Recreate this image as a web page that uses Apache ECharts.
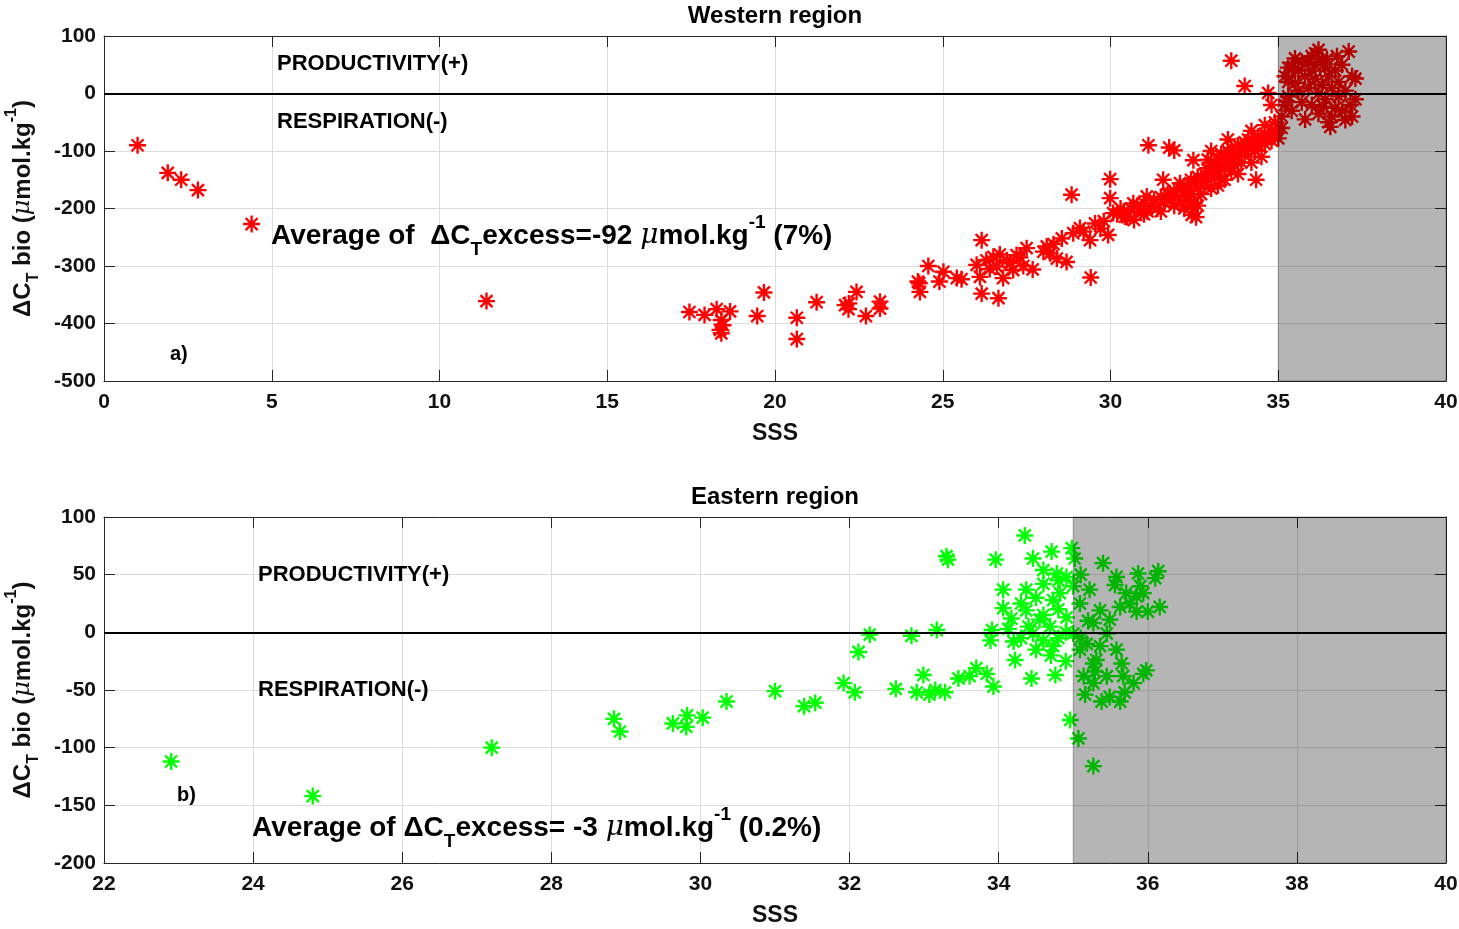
<!DOCTYPE html>
<html>
<head>
<meta charset="utf-8">
<script src="https://cdn.jsdelivr.net/npm/echarts@6/dist/echarts.min.js"></script>
<style>
html,body{margin:0;padding:0;background:#fff;}
#chart{width:1459px;height:929px;}
</style>
</head>
<body>
<div id="chart"></div>
<script>
// ---------- DATA ----------
const westTitle = 'Western region';
const eastTitle = 'Eastern region';
const westXTicks = { min: 0, max: 40, interval: 5 };
const westYTicks = { min: -500, max: 100, interval: 100 };
const eastXTicks = { min: 22, max: 40, interval: 2 };
const eastYTicks = { min: -200, max: 100, interval: 50 };
const shadeFrom = 35;
const shadeTo = 40;

const westSSS = [
  1.0, 1.9, 2.3, 2.8, 4.4, 11.4,
  17.45, 17.9, 18.26, 18.4, 18.66, 18.36, 18.45, 18.4, 19.47, 19.67, 20.65, 20.65, 21.24, 22.09, 22.19, 22.43, 22.71, 23.13, 23.13, 22.2,
  24.26, 24.3, 24.32, 24.57, 25.02, 24.9, 25.42, 25.56, 26.01, 26.16, 26.11, 26.16, 26.66, 26.51, 26.61, 26.8, 26.91, 27.1, 27.2, 27.5, 27.68,
  28.1, 28.2, 28.4, 28.69, 28.55, 28.84, 28.89, 29.09, 29.39, 29.41, 29.54, 29.93, 29.99, 29.99, 30.08, 30.43, 30.68, 31.08, 31.13, 31.75,
  31.57, 31.77, 32.42, 32.07, 32.47, 32.27,
  26.3, 26.4, 26.7, 27.0, 27.3, 27.4, 28.0, 28.3, 29.2, 29.7, 29.8, 30.3,
  30.2, 30.4, 30.5, 30.6, 30.8, 30.9, 31.0, 31.0,
  31.2, 31.3, 31.4, 31.5, 31.6, 31.7, 31.8, 31.9, 31.9, 32.0,
  32.1, 32.1, 32.2, 32.3, 32.3, 32.4, 32.4, 32.5, 32.5, 32.6, 32.6, 32.7, 32.7, 32.8, 32.8, 32.9, 32.9, 33.0, 33.0, 33.0,
  33.1, 33.1, 33.2, 33.2, 33.3, 33.3, 33.3, 33.4, 33.4, 33.5, 33.5, 33.6, 33.6, 33.6, 33.7, 33.7, 33.8, 33.8, 33.9, 33.9, 34.0, 34.0,
  34.1, 34.1, 34.2, 34.3, 34.3, 34.4, 34.4, 34.5, 34.6, 34.6, 34.7, 34.8, 34.8, 34.9, 35.0, 35.0,
  33.0, 33.4, 33.8, 34.2, 34.5, 32.6, 32.2, 31.5, 34.6, 34.9, 34.2, 33.5, 32.9, 33.2, 31.1, 30.7,
  33.6, 34.0, 34.7, 34.8, 34.34, 31.9, 32.55, 32.4,
  35.1, 35.2, 35.25, 35.3, 35.3, 35.4, 35.5, 35.5, 35.6, 35.6, 35.7, 35.8, 35.8, 35.9, 35.9, 36.0, 36.0, 36.0, 36.1, 36.1,
  36.2, 36.2, 36.2, 36.3, 36.3, 36.35, 36.4, 36.4, 36.5, 36.5, 36.55, 36.6, 36.7, 36.7, 36.8, 36.8, 36.9, 37.0, 37.0, 37.1,
  37.15, 37.2, 37.3, 37.3, 37.2, 35.2, 35.4, 35.7, 36.6, 36.9, 35.1, 35.3, 36.1, 36.45, 36.75
];
const westDCT = [
  -90, -138, -150, -168, -227, -361,
  -380, -385, -375, -394, -379, -411, -403, -417, -387, -346, -390, -427, -363, -368, -375, -345, -387, -362, -374, -365,
  -327, -330, -345, -300, -310, -327, -321, -323, -298, -255, -319, -348, -356, -284, -301, -321, -290, -307, -281, -269, -306,
  -266, -278, -287, -293, -252, -176, -243, -234, -255, -320, -226, -246, -149, -182, -208, -214, -191, -179, -90, -94,
  -150, -174, -211, -156, -116, -185,
  -290, -305, -280, -295, -285, -300, -275, -262, -240, -235, -222, -200,
  -210, -205, -215, -200, -195, -205, -190, -210,
  -195, -185, -200, -180, -190, -175, -185, -170, -195, -180,
  -165, -190, -170, -160, -180, -150, -175, -155, -190, -145, -165, -150, -175, -140, -160, -130, -150, -140, -120, -165,
  -125, -145, -115, -135, -105, -125, -150, -110, -130, -100, -120, -95, -115, -135, -105, -125, -90, -110, -100, -120, -85, -105,
  -95, -80, -90, -85, -100, -75, -90, -80, -70, -88, -75, -65, -82, -70, -60, -78,
  -100, -150, -140, -120, -110, -195, -200, -205, -55, -50, -65, -80, -115, -160, -205, -220,
  57, 13, 1, -20, -150, -99, -215, -197,
  -40, -20, -14, -5, 20, -30, 61, 18, 5, 40, -15, 30, -45, 55, 10, 40, -20, 65, 70, 25,
  76, 0, -35, 60, 15, -23, 45, -10, -50, 30, -58, 10, 40, -25, 20, -5, 50, -46, 5, 73,
  -20, 30, 26, -10, -40, 30, 45, 55, -40, -30, -60, 45, 50, 60, 65
];

const eastSSS = [
  22.9, 24.8, 27.2, 28.84, 28.92, 29.63, 29.82, 29.81, 30.03, 30.35, 31.0, 31.39, 31.54, 31.92, 32.07, 32.12, 32.27, 32.62, 32.83, 32.9,
  32.99, 33.07, 33.17, 33.15, 33.28, 33.46, 33.61, 33.7, 33.84, 33.93, 33.3, 33.32,
  34.35, 33.96, 34.46, 34.71, 34.98, 35.02, 34.6, 34.8, 35.4, 35.58, 35.87, 36.14, 36.1, 36.16, 35.85, 35.85, 36.0, 34.06, 34.37, 34.06,
  34.17, 34.37, 34.13, 33.89, 34.2, 34.22, 34.44, 34.76, 34.96, 35.07, 35.27, 35.16, 35.38, 35.63, 35.58, 35.65, 35.98, 35.94, 35.31, 35.29,
  35.81, 35.14, 35.18, 35.45, 34.73, 34.6, 34.69, 34.91, 34.82, 35.0, 35.22, 35.09, 35.36, 35.49, 35.27, 35.0, 34.55, 34.46, 34.73, 34.6,
  34.78, 34.91, 33.91, 35.09, 35.27, 35.36, 35.45, 35.27, 35.67, 35.69, 35.49, 35.56, 35.71, 35.76, 35.94, 35.63, 35.9, 34.3, 34.5, 34.4,
  34.8, 34.9, 34.5, 34.7, 34.3, 34.9, 34.6, 34.8, 35.1, 35.2, 35.1
];
const eastDCT = [
  -112, -142, -100, -75, -86, -79, -72, -82, -74, -60, -51, -64, -61, -44, -52, -17, -2, -49, -3, -52,
  -37, -54, 2, -50, -52, -40, -38, -31, -36, -47, 66, 63,
  84, 63, 64, 70, 73, 64, 54, 45, 60, 48, 51, 53, 47, 22, 31, 18, 18, 37, 37, 21,
  12, 19, 3, -7, -8, -24, -40, -37, -76, -92, -116, -54, -60, -60, -15, -27, -33, -36, -24, -34,
  -44, -38, -10, -1, -12, -7, 5, 13, 34, 40, 37, 25, 19, 11, 8, -1, 11, -1, 28, 42,
  51, 48, 2, -15, -27, -12, -38, -44, -38, -52, -56, 41, 34, 25, 34, 22, 40, 25, 30, 5,
  20, 0, -15, -20, -5, -25, 15, -5, 50, 10, -5
];

// ---------- BUILD ----------
const westData = westSSS.map((x, i) => [x, westDCT[i]]);
const eastData = eastSSS.map((x, i) => [x, eastDCT[i]]);

// asterisk marker (+ and x combined), filled thin bars
const asterisk = 'path://M0 43L100 43L100 57L0 57Z M43 0L57 0L57 100L43 100Z ' +
  'M19.6 9.7L90.3 80.4L80.4 90.3L9.7 19.6Z M9.7 80.4L80.4 9.7L90.3 19.6L19.6 90.3Z';

const FONT = '"Liberation Sans", Arial, Helvetica, sans-serif';
const AX = '#262626';
const GRIDC = '#dcdcdc';

function xAxisMain(grid, t) {
  return {
    gridIndex: grid, type: 'value', min: t.min, max: t.max, interval: t.interval, position: 'bottom',
    axisLine: { show: true, onZero: false, lineStyle: { color: AX, width: 1 } },
    axisTick: { show: true, inside: true, length: 11, lineStyle: { color: AX } },
    axisLabel: { show: true, color: '#111', fontFamily: FONT, fontWeight: 'bold', fontSize: 21, margin: 11 },
    splitLine: { show: true, lineStyle: { color: GRIDC, width: 1 } },
    name: 'SSS', nameLocation: 'middle', nameGap: 41,
    nameTextStyle: { color: '#111', fontFamily: FONT, fontWeight: 'bold', fontSize: 23 }
  };
}
function xAxisTop(grid, t) {
  return {
    gridIndex: grid, type: 'value', min: t.min, max: t.max, interval: t.interval, position: 'top',
    axisLine: { show: true, onZero: false, lineStyle: { color: AX, width: 1 } },
    axisTick: { show: true, inside: true, length: 11, lineStyle: { color: AX } },
    axisLabel: { show: false }, splitLine: { show: false }
  };
}
const yNameRich = {
  d: { fontFamily: FONT, fontWeight: 'bold', fontSize: 24, color: '#111', lineHeight: 38, verticalAlign: 'middle' },
  s: { fontFamily: FONT, fontWeight: 'bold', fontSize: 16, color: '#111', lineHeight: 16, verticalAlign: 'bottom' },
  p: { fontFamily: FONT, fontWeight: 'bold', fontSize: 16, color: '#111', lineHeight: 16, verticalAlign: 'top' },
  m: { fontFamily: 'DejaVu Serif, serif', fontStyle: 'italic', fontWeight: 'normal', fontSize: 24, color: '#111', lineHeight: 38, verticalAlign: 'middle' }
};
function yAxisMain(grid, t) {
  return {
    gridIndex: grid, type: 'value', min: t.min, max: t.max, interval: t.interval, position: 'left',
    axisLine: { show: true, onZero: false, lineStyle: { color: AX, width: 1 } },
    axisTick: { show: true, inside: true, length: 11, lineStyle: { color: AX } },
    axisLabel: { show: true, color: '#111', fontFamily: FONT, fontWeight: 'bold', fontSize: 21, margin: 8 },
    splitLine: { show: true, lineStyle: { color: GRIDC, width: 1 } },
    name: '{d|\u0394C}{s|T}{d| bio (}{m|\u03bc}{d|mol.kg}{p|-1}{d|)}',
    nameLocation: 'middle', nameGap: 62, nameRotate: 90,
    nameTextStyle: { rich: yNameRich }
  };
}
function yAxisRight(grid, t) {
  return {
    gridIndex: grid, type: 'value', min: t.min, max: t.max, interval: t.interval, position: 'right',
    axisLine: { show: true, onZero: false, lineStyle: { color: AX, width: 1 } },
    axisTick: { show: true, inside: true, length: 11, lineStyle: { color: AX } },
    axisLabel: { show: false }, splitLine: { show: false }
  };
}

function overlay(xi, yi) {
  return [{
    type: 'custom', xAxisIndex: xi, yAxisIndex: yi, z: 5, silent: true,
    data: [[shadeFrom, shadeTo]],
    encode: { x: [0, 1] },
    renderItem: function (params, api) {
      const cs = params.coordSys;
      const x1 = api.coord([api.value(0), 0])[0];
      const x2 = api.coord([api.value(1), 0])[0];
      return {
        type: 'rect',
        shape: { x: x1, y: cs.y, width: x2 - x1, height: cs.height },
        style: { fill: 'rgba(0,0,0,0.29)', stroke: 'rgba(0,0,0,0.3)', lineWidth: 1 }
      };
    }
  }, {
    type: 'scatter', xAxisIndex: xi, yAxisIndex: yi, data: [], z: 6, silent: true,
    markLine: {
      silent: true, symbol: ['none', 'none'], label: { show: false },
      lineStyle: { color: '#000', width: 2, type: 'solid' },
      data: [{ yAxis: 0 }]
    }
  }];
}

const bigRich = {
  d: { fontFamily: FONT, fontWeight: 'bold', fontSize: 28, fill: '#000', lineHeight: 46, verticalAlign: 'middle' },
  s: { fontFamily: FONT, fontWeight: 'bold', fontSize: 19, fill: '#000', lineHeight: 19, verticalAlign: 'bottom' },
  p: { fontFamily: FONT, fontWeight: 'bold', fontSize: 19, fill: '#000', lineHeight: 19, verticalAlign: 'top' },
  m: { fontFamily: 'DejaVu Serif, serif', fontStyle: 'italic', fontSize: 28, fill: '#000', lineHeight: 46, verticalAlign: 'middle' }
};
function txt(x, y, s, size, align) {
  return { type: 'text', x: x, y: y, silent: true, z: 20,
    style: { text: s, fill: '#000', font: 'bold ' + size + 'px ' + FONT, textAlign: align || 'left', textVerticalAlign: 'middle' } };
}
function richTxt(x, y, s) {
  return { type: 'text', x: x, y: y, silent: true, z: 20,
    style: { text: s, rich: bigRich, textAlign: 'left', textVerticalAlign: 'middle' } };
}

const option = {
  animation: false,
  backgroundColor: '#fff',
  grid: [
    { left: 104, right: 13, top: 36, height: 345, containLabel: false, outerBoundsMode: 'none' },
    { left: 104, right: 13, top: 517, height: 346, containLabel: false, outerBoundsMode: 'none' }
  ],
  xAxis: [xAxisMain(0, westXTicks), xAxisTop(0, westXTicks), xAxisMain(1, eastXTicks), xAxisTop(1, eastXTicks)],
  yAxis: [yAxisMain(0, westYTicks), yAxisRight(0, westYTicks), yAxisMain(1, eastYTicks), yAxisRight(1, eastYTicks)],
  series: [
    { type: 'scatter', xAxisIndex: 0, yAxisIndex: 0, data: westData, symbol: asterisk, symbolSize: 17,
      itemStyle: { color: '#ff0000', opacity: 1 }, z: 2 },
    { type: 'scatter', xAxisIndex: 2, yAxisIndex: 2, data: eastData, symbol: asterisk, symbolSize: 17,
      itemStyle: { color: '#00ff00', opacity: 1 }, z: 2 }
  ].concat(overlay(0, 0), overlay(2, 2)),
  graphic: [
    txt(775, 16, westTitle, 24, 'center'),
    txt(775, 497, eastTitle, 24, 'center'),
    txt(277, 64, 'PRODUCTIVITY(+)', 22),
    txt(277, 122, 'RESPIRATION(-)', 22),
    txt(170, 354, 'a)', 20),
    richTxt(271, 236, '{d|Average of  \u0394C}{s|T}{d|excess=-92 }{m|\u03bc}{d|mol.kg}{p|-1}{d| (7%)}'),
    txt(258, 575, 'PRODUCTIVITY(+)', 22),
    txt(258, 690, 'RESPIRATION(-)', 22),
    txt(177, 795, 'b)', 20),
    richTxt(252, 828, '{d|Average of \u0394C}{s|T}{d|excess= -3 }{m|\u03bc}{d|mol.kg}{p|-1}{d| (0.2%)}')
  ]
};

const chart = echarts.init(document.getElementById('chart'), null, { renderer: 'canvas' });
chart.setOption(option);
</script>
</body>
</html>
